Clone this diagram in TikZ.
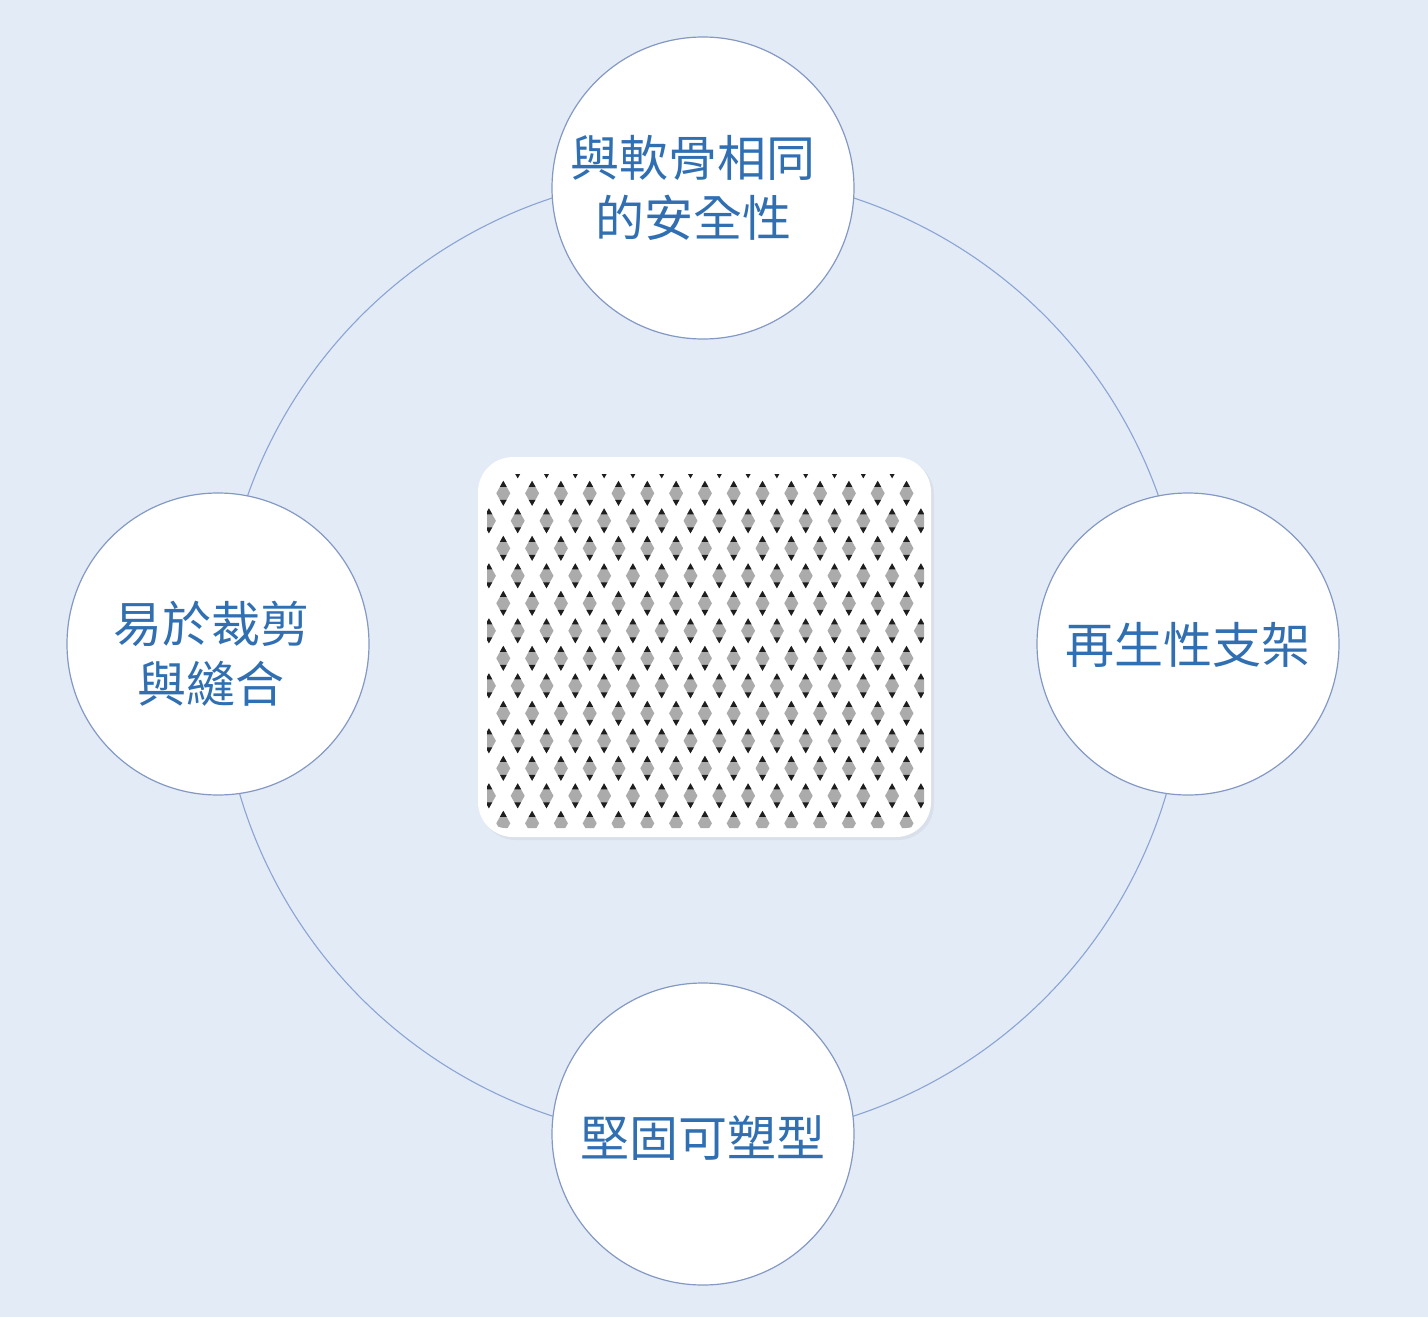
\documentclass[tikz,border=0pt]{standalone}
\usepackage{fontspec}
\newfontfamily\cjk{Noto Sans CJK TC}
\definecolor{bgc}{HTML}{E3EBF6}
\definecolor{ringc}{HTML}{8AA4D4}
\definecolor{bubblec}{HTML}{8399C4}
\definecolor{txtc}{HTML}{2F6FB2}
\definecolor{holegray}{HTML}{ABABAB}
\definecolor{holedark}{HTML}{1E1E1E}
\definecolor{shadowc}{HTML}{D9E0EA}
\tikzset{
  bubble/.style={circle, draw=bubblec, line width=1.2pt, fill=white, minimum size=302pt, inner sep=0pt},
  bubbletext/.style={inner sep=0pt, text=txtc, font=\cjk\fontsize{49}{60}\selectfont, align=center},
  ring/.style={draw=ringc, line width=1.1pt},
  hole/.pic={
    \fill[holegray] (0,-12.5) .. controls (3,-7) .. (7,0) .. controls (3,7) .. (0,12.5)
       .. controls (-3,7) .. (-7,0) .. controls (-3,-7) .. (0,-12.5) -- cycle;
    \fill[holedark] (0,-12.5) -- (3.4,-6.5) -- (-3.4,-6.5) -- cycle;
    \fill[holedark] (0,12.5) -- (3.4,6.5) -- (-3.4,6.5) -- cycle;
  }
}
\begin{document}
\begin{tikzpicture}[x=1pt,y=-1pt]
\fill[bgc] (0,0) rectangle (1428,1317);
\useasboundingbox (0,0) rectangle (1428,1317);
% big ring
\draw[ring] (703,657) circle (483);
% central mesh
\fill[shadowc, rounded corners=36pt] (480,459) rectangle (934,840);
\fill[white, rounded corners=35pt] (478,457) rectangle (931,837);
\begin{scope}
  \clip[rounded corners=18pt] (487,474) rectangle (924,828);
  \foreach \k in {0,...,6} {
    \foreach \c in {0,...,14} {
      \pic at ({503.3+28.8*\c},{493.3+55*\k}) {hole};
    }
    \foreach \c in {0,...,15} {
      \pic at ({488.9+28.8*\c},{465.8+55*\k}) {hole};
    }
  }
\end{scope}
% bubbles
\node[bubble] (top) at (703,188) {};
\node[bubble] (left) at (218,644) {};
\node[bubble] (right) at (1188,644) {};
\node[bubble] (bottom) at (703,1134) {};
\node[bubbletext] (toptext) at ([xshift=-10pt]top.center) {與軟骨相同\\的安全性};
\node[bubbletext] (lefttext) at ([xshift=-7pt,yshift=-10pt]left.center) {易於裁剪\\與縫合};
\node[bubbletext] (righttext) at ([yshift=-1pt]right.center) {再生性支架};
\node[bubbletext] (bottomtext) at ([yshift=-4pt]bottom.center) {堅固可塑型};
\end{tikzpicture}
\end{document}
